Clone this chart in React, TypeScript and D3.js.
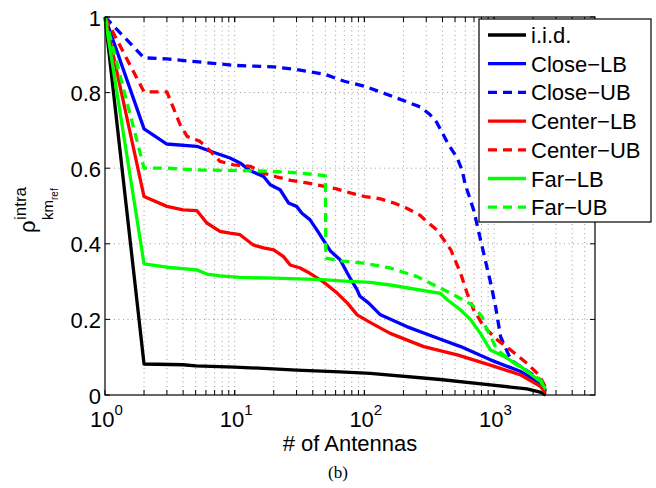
import React from "react";
import * as d3 from "d3";

const iidX = [1, 2, 4, 5, 10, 30, 65, 111, 385, 937, 1793, 2300, 2500];
const iidY = [1, 0.082, 0.08, 0.077, 0.074, 0.066, 0.061, 0.057, 0.041, 0.027, 0.016, 0.007, 0];

const closeLbX = [1, 2, 3, 5.1, 6.5, 9.2, 11, 13.2, 16.7, 18.8, 22.4, 26, 30, 33, 38, 43, 48, 55, 65, 74, 79, 88, 92, 108, 133, 212, 343, 552, 937, 1607, 2292, 2500];
const closeLbY = [1, 0.704, 0.664, 0.658, 0.645, 0.627, 0.614, 0.593, 0.578, 0.556, 0.543, 0.508, 0.499, 0.481, 0.464, 0.437, 0.411, 0.38, 0.358, 0.322, 0.305, 0.278, 0.262, 0.243, 0.212, 0.181, 0.154, 0.128, 0.093, 0.062, 0.031, 0.01];

const closeUbX = [1, 2, 3, 10, 20, 30, 50, 70, 100, 150, 200, 270, 320, 360, 400, 446, 520, 570, 600, 650, 700, 787, 940, 1027, 1123, 1346, 1607, 2292, 2500];
const closeUbY = [1, 0.892, 0.889, 0.872, 0.868, 0.861, 0.848, 0.83, 0.817, 0.795, 0.779, 0.762, 0.742, 0.722, 0.693, 0.662, 0.627, 0.592, 0.556, 0.521, 0.486, 0.41, 0.297, 0.234, 0.154, 0.093, 0.075, 0.04, 0.02];

const centerLbX = [1, 2, 3, 4, 5.1, 6.1, 7.7, 9.2, 11, 13.9, 16.7, 20, 23.8, 26.8, 32, 38, 48, 62, 74, 88, 108, 158, 287, 520, 937, 1607, 2292, 2500];
const centerLbY = [1, 0.525, 0.499, 0.49, 0.488, 0.455, 0.433, 0.428, 0.424, 0.397, 0.389, 0.384, 0.366, 0.344, 0.336, 0.322, 0.3, 0.269, 0.243, 0.212, 0.194, 0.163, 0.128, 0.106, 0.079, 0.053, 0.022, 0.005];

const centerUbX = [1, 2, 3, 3.8, 4.3, 5.4, 6.5, 7.7, 9.8, 13.2, 16.7, 21, 27, 36, 46, 60, 79, 101, 133, 169, 212, 270, 300, 362, 464, 552, 620, 697, 834, 1057, 1342, 1793, 2216, 2500];
const centerUbY = [1, 0.802, 0.802, 0.715, 0.684, 0.671, 0.645, 0.618, 0.609, 0.605, 0.587, 0.577, 0.568, 0.561, 0.554, 0.546, 0.534, 0.525, 0.519, 0.508, 0.494, 0.475, 0.46, 0.437, 0.384, 0.322, 0.269, 0.225, 0.181, 0.146, 0.119, 0.084, 0.053, 0.02];

const farLbX = [1, 2, 3, 5.1, 6.1, 7.7, 11, 20, 48, 65, 111, 158, 385, 436, 552, 660, 784, 937, 1195, 1607, 2292, 2500];
const farLbY = [1, 0.347, 0.338, 0.331, 0.32, 0.315, 0.311, 0.309, 0.305, 0.302, 0.298, 0.291, 0.269, 0.252, 0.225, 0.199, 0.163, 0.119, 0.102, 0.075, 0.035, 0.015];

const farUbX = [1, 2, 3, 5.5, 10, 17.7, 23.8, 32, 42, 50, 50.5, 65, 99, 158, 255, 385, 520, 680, 809, 860, 1057, 1430, 2280, 2500];
const farUbY = [1, 0.6, 0.6, 0.595, 0.594, 0.592, 0.59, 0.587, 0.583, 0.58, 0.362, 0.355, 0.349, 0.336, 0.313, 0.283, 0.26, 0.238, 0.207, 0.181, 0.119, 0.084, 0.04, 0.02];

const seriesNames = ["i.i.d.", "Close\u2212LB", "Close\u2212UB", "Center\u2212LB", "Center\u2212UB", "Far\u2212LB", "Far\u2212UB"];
const seriesColors = ["#000000", "#0000ff", "#0000ff", "#ff0000", "#ff0000", "#00ff00", "#00ff00"];
const seriesDashed = [false, false, true, false, true, false, true];
const seriesX = [iidX, closeLbX, closeUbX, centerLbX, centerUbX, farLbX, farUbX];
const seriesY = [iidY, closeLbY, closeUbY, centerLbY, centerUbY, farLbY, farUbY];

const yTicks = [0, 0.2, 0.4, 0.6, 0.8, 1];
const yTickLabels = ["0", "0.2", "0.4", "0.6", "0.8", "1"];
const xMajor = [1, 10, 100, 1000];
const xMajorExp = ["0", "1", "2", "3"];

const FONT = "'Liberation Sans', Arial, Helvetica, sans-serif";

export default function App() {
  const L = 105, R = 595, T = 17, B = 395;
  const x = d3.scaleLog().domain([1, 6000]).range([L, R]);
  const y = d3.scaleLinear().domain([0, 1]).range([B, T]);

  const minor: number[] = [];
  for (let d = 1; d <= 1000; d *= 10) {
    for (let k = 1; k <= 9; k++) {
      const v = k * d;
      if (v > 1 && v < 6000) minor.push(v);
    }
  }

  const line = d3
    .line<[number, number]>()
    .x((d) => x(d[0]))
    .y((d) => y(d[1]));

  const legX = 479, legY = 19, legW = 172, legH = 203;
  const rowY = (i: number) => 35 + i * 28.7;

  return (
    <svg width={656} height={488} style={{ position: "absolute", left: 0, top: 0, background: "#fff" }}>
      <rect x={0} y={0} width={656} height={488} fill="#fff" />
      {minor.map((v) => (
        <line key={"gx" + v} x1={x(v)} x2={x(v)} y1={T} y2={B} stroke="#9a9a9a" strokeWidth={1} strokeDasharray="1 3.5" />
      ))}
      {yTicks.slice(1, -1).map((v) => (
        <line key={"gy" + v} x1={L} x2={R} y1={y(v)} y2={y(v)} stroke="#9a9a9a" strokeWidth={1} strokeDasharray="1 3.5" />
      ))}
      {seriesX.map((xs, i) => (
        <path
          key={"s" + i}
          d={line(xs.map((v, j) => [v, seriesY[i][j]] as [number, number])) || ""}
          fill="none"
          stroke={seriesColors[i]}
          strokeWidth={3.3}
          strokeDasharray={seriesDashed[i] ? "9 6" : undefined}
          strokeLinejoin="round"
        />
      ))}
      <rect x={L} y={T} width={R - L} height={B - T} fill="none" stroke="#000" strokeWidth={1.2} />
      {minor.concat(xMajor).map((v) => (
        <g key={"tx" + v}>
          <line x1={x(v)} x2={x(v)} y1={B} y2={B - 5} stroke="#000" strokeWidth={1} />
          <line x1={x(v)} x2={x(v)} y1={T} y2={T + 5} stroke="#000" strokeWidth={1} />
        </g>
      ))}
      {yTicks.map((v) => (
        <g key={"ty" + v}>
          <line x1={L} x2={L + 5} y1={y(v)} y2={y(v)} stroke="#000" strokeWidth={1} />
          <line x1={R} x2={R - 5} y1={y(v)} y2={y(v)} stroke="#000" strokeWidth={1} />
        </g>
      ))}
      {yTicks.map((v, i) => (
        <text key={"yl" + v} x={101} y={y(v) + 8.5} textAnchor="end" fontFamily={FONT} fontSize={22} fill="#000">
          {yTickLabels[i]}
        </text>
      ))}
      {xMajor.map((v, i) => (
        <text key={"xl" + v} x={x(v) - 15} y={427} fontFamily={FONT} fontSize={22} fill="#000">
          10
          <tspan fontSize={15} dy={-12}>{xMajorExp[i]}</tspan>
        </text>
      ))}
      <text x={(L + R) / 2} y={451} textAnchor="middle" fontFamily={FONT} fontSize={22} fill="#000">
        # of Antennas
      </text>
      <g transform="translate(35,233) rotate(-90)">
        <text x={0} y={0} fontFamily={FONT} fontSize={22} fill="#000">ρ</text>
        <text x={13} y={-9} fontFamily={FONT} fontSize={17} fill="#000">intra</text>
        <text x={13} y={18} fontFamily={FONT} fontSize={15} fill="#000">km</text>
        <text x={33} y={23} fontFamily={FONT} fontSize={10} fill="#000">ref</text>
      </g>
      <text x={338} y={478} textAnchor="middle" fontFamily="'Liberation Serif', 'Times New Roman', serif" fontSize={17} fill="#000">
        (b)
      </text>
      <rect x={legX} y={legY} width={legW} height={legH} fill="#fff" stroke="#000" strokeWidth={1.2} />
      {seriesNames.map((n, i) => (
        <g key={"lg" + i}>
          <line x1={488} x2={526} y1={rowY(i)} y2={rowY(i)} stroke={seriesColors[i]} strokeWidth={3.3} strokeDasharray={seriesDashed[i] ? "9 6" : undefined} />
          <text x={531} y={rowY(i) + 8} fontFamily={FONT} fontSize={22} fill="#000">{n}</text>
        </g>
      ))}
    </svg>
  );
}
